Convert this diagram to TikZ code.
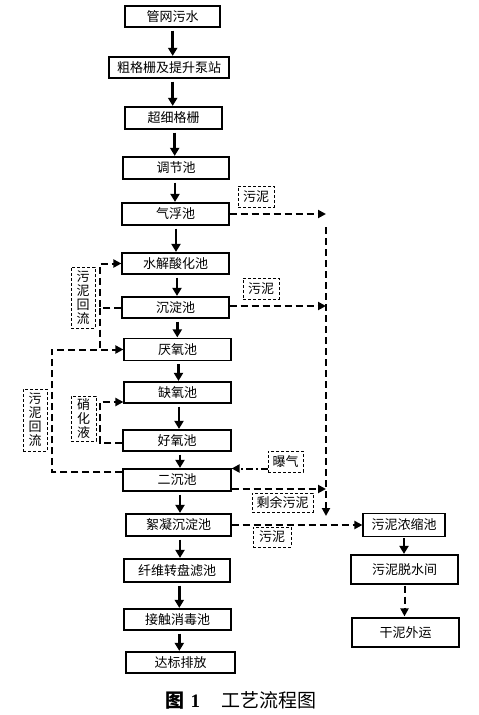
\documentclass[tikz,border=0pt]{standalone}
\usepackage{fontspec}
\setmainfont{Liberation Serif}
\newfontfamily\cjk{Noto Sans CJK SC}
\usetikzlibrary{arrows.meta,calc}
\tikzset{
  box/.style={draw, line width=1.2pt, inner sep=0pt, font=\cjk\fontsize{13}{15}\selectfont},
  lbl/.style={draw, dash pattern=on 3pt off 2pt, line width=0.9pt, inner sep=0pt, align=center, font=\cjk\fontsize{13}{14}\selectfont},
  arr/.style={line width=2.5pt, -{Triangle[length=8pt,width=9pt]}, shorten <=3pt, shorten >=0.5pt},
  dsh/.style={line width=2pt, dash pattern=on 7pt off 4pt},
  darr/.style={dsh, -{Triangle[length=8pt,width=8pt]}},
  ddarr/.style={line width=2pt, dash pattern=on 7pt off 3pt on 2pt off 3pt, -{Triangle[length=8pt,width=8pt]}},
}
\newcommand\varr[3]{\draw[arr] let \p1=(#1.south),\p2=(#2.north) in ({#3pt},\y1) -- ({#3pt},\y2);}
\begin{document}
\begin{tikzpicture}[x=1pt,y=-1pt]
\fill[white] (0,0) rectangle (479,715);
\useasboundingbox (0,0) rectangle (479,715);
% main column
\node[box,minimum width=95pt,minimum height=21pt] (n1) at (172.5,16.5) {管网污水};
\node[box,minimum width=120pt,minimum height=21pt] (n2) at (169,67.5) {粗格栅及提升泵站};
\node[box,minimum width=97pt,minimum height=22pt] (n3) at (173.5,118) {超细格栅};
\node[box,minimum width=106pt,minimum height=22pt] (n4) at (176,168) {调节池};
\node[box,minimum width=107pt,minimum height=22pt] (n5) at (175.5,214) {气浮池};
\node[box,minimum width=107pt,minimum height=21pt] (n6) at (175.5,263.5) {水解酸化池};
\node[box,minimum width=107pt,minimum height=21pt] (n7) at (175.5,307.5) {沉淀池};
\node[box,minimum width=107pt,minimum height=22pt] (n8) at (177.5,349.5) {厌氧池};
\node[box,minimum width=107pt,minimum height=21pt] (n9) at (177.5,392.5) {缺氧池};
\node[box,minimum width=108pt,minimum height=21pt] (n10) at (177,440.5) {好氧池};
\node[box,minimum width=108pt,minimum height=22pt] (n11) at (177,480) {二沉池};
\node[box,minimum width=105pt,minimum height=22pt] (n12) at (178.5,525) {絮凝沉淀池};
\node[box,minimum width=106pt,minimum height=23pt] (n13) at (177,570.5) {纤维转盘滤池};
\node[box,minimum width=107pt,minimum height=21pt] (n14) at (177.5,619.5) {接触消毒池};
\node[box,minimum width=109pt,minimum height=21pt] (n15) at (180.5,662.5) {达标排放};
% right column
\node[box,minimum width=82pt,minimum height=23pt] (r1) at (404,525) {污泥浓缩池};
\node[box,minimum width=107pt,minimum height=29pt] (r2) at (404.5,569.5) {污泥脱水间};
\node[box,minimum width=107pt,minimum height=29pt] (r3) at (405.5,632.5) {干泥外运};
% labels
\node[lbl,minimum width=36pt,minimum height=21pt] (l1) at (256,196.5) {污泥};
\node[lbl,minimum width=36pt,minimum height=21pt] (l2) at (261,288.5) {污泥};
\node[lbl,minimum width=24pt,minimum height=61pt] (l3) at (83,297.5) {污\\泥\\回\\流};
\node[lbl,minimum width=25pt,minimum height=45pt] (l4) at (83.5,418.5) {硝\\化\\液};
\node[lbl,minimum width=24pt,minimum height=62pt] (l5) at (35,420) {污\\泥\\回\\流};
\node[lbl,minimum width=35pt,minimum height=21pt] (l6) at (285.5,461.5) {曝气};
\node[lbl,minimum width=61pt,minimum height=19pt] (l7) at (282.5,502.5) {剩余污泥};
\node[lbl,minimum width=38pt,minimum height=20pt] (l8) at (272,537) {污泥};
% main arrows
\varr{n1}{n2}{172.7}
\varr{n2}{n3}{172.7}
\varr{n3}{n4}{174.7}
\varr{n4}{n5}{175}
\varr{n5}{n6}{176}
\varr{n6}{n7}{177}
\varr{n7}{n8}{177.3}
\varr{n8}{n9}{178.5}
\varr{n9}{n10}{179}
\varr{n10}{n11}{180}
\varr{n11}{n12}{180}
\varr{n12}{n13}{180}
\varr{n13}{n14}{179.3}
\varr{n14}{n15}{179.3}
% sludge collection line
\coordinate (vt) at (326,227);
\coordinate (vb) at (326,516);
\draw[darr] (vt) -- (vb);
\draw[darr] (n5.east) -- (n5.east -| vt);
\coordinate (s7) at ([yshift=1.5pt]n7.east);
\draw[darr] (s7) -- (s7 -| vt);
\coordinate (s11) at ([yshift=-9pt]n11.east);
\draw[darr] (s11) -- (s11 -| vt);
\draw[darr] (n12.east) -- (n12.east -| r1.west);
% return sludge
\coordinate (jx) at (100,0);
\coordinate (ox) at (52,0);
\draw[darr] (n7.west) -- (n7.west -| jx) |- (n6.west);
\draw[dsh] (n7.west -| jx) -- (n8.west -| jx);
\coordinate (s11l) at ([yshift=8pt]n11.west);
\draw[darr] (s11l) -- (s11l -| ox) |- (n8.west);
% nitrate recycle
\coordinate (s10l) at ([yshift=-2.5pt]n10.west);
\coordinate (e9l) at ([yshift=-9.5pt]n9.west);
\draw[darr] (s10l) -- (s10l -| jx) |- (e9l);
% aeration
\coordinate (s6) at ([yshift=-7pt]l6.west);
\draw[ddarr] (s6) -- (s6 -| n11.east);
% right column arrows
\draw[arr,shorten <=1pt] (r1.south) -- (r1.south |- r2.north);
\draw[darr,shorten <=1pt,shorten >=1pt] (r2.south) -- (r2.south |- r3.north);
% caption
\node[font=\fontsize{19}{19}\selectfont, inner sep=0pt] (cap) at (241,700) {{\cjk\bfseries 图}\hspace{0.3em}\textbf{1}\hspace{1.1em}{\cjk 工艺流程图}};
\end{tikzpicture}
\end{document}
